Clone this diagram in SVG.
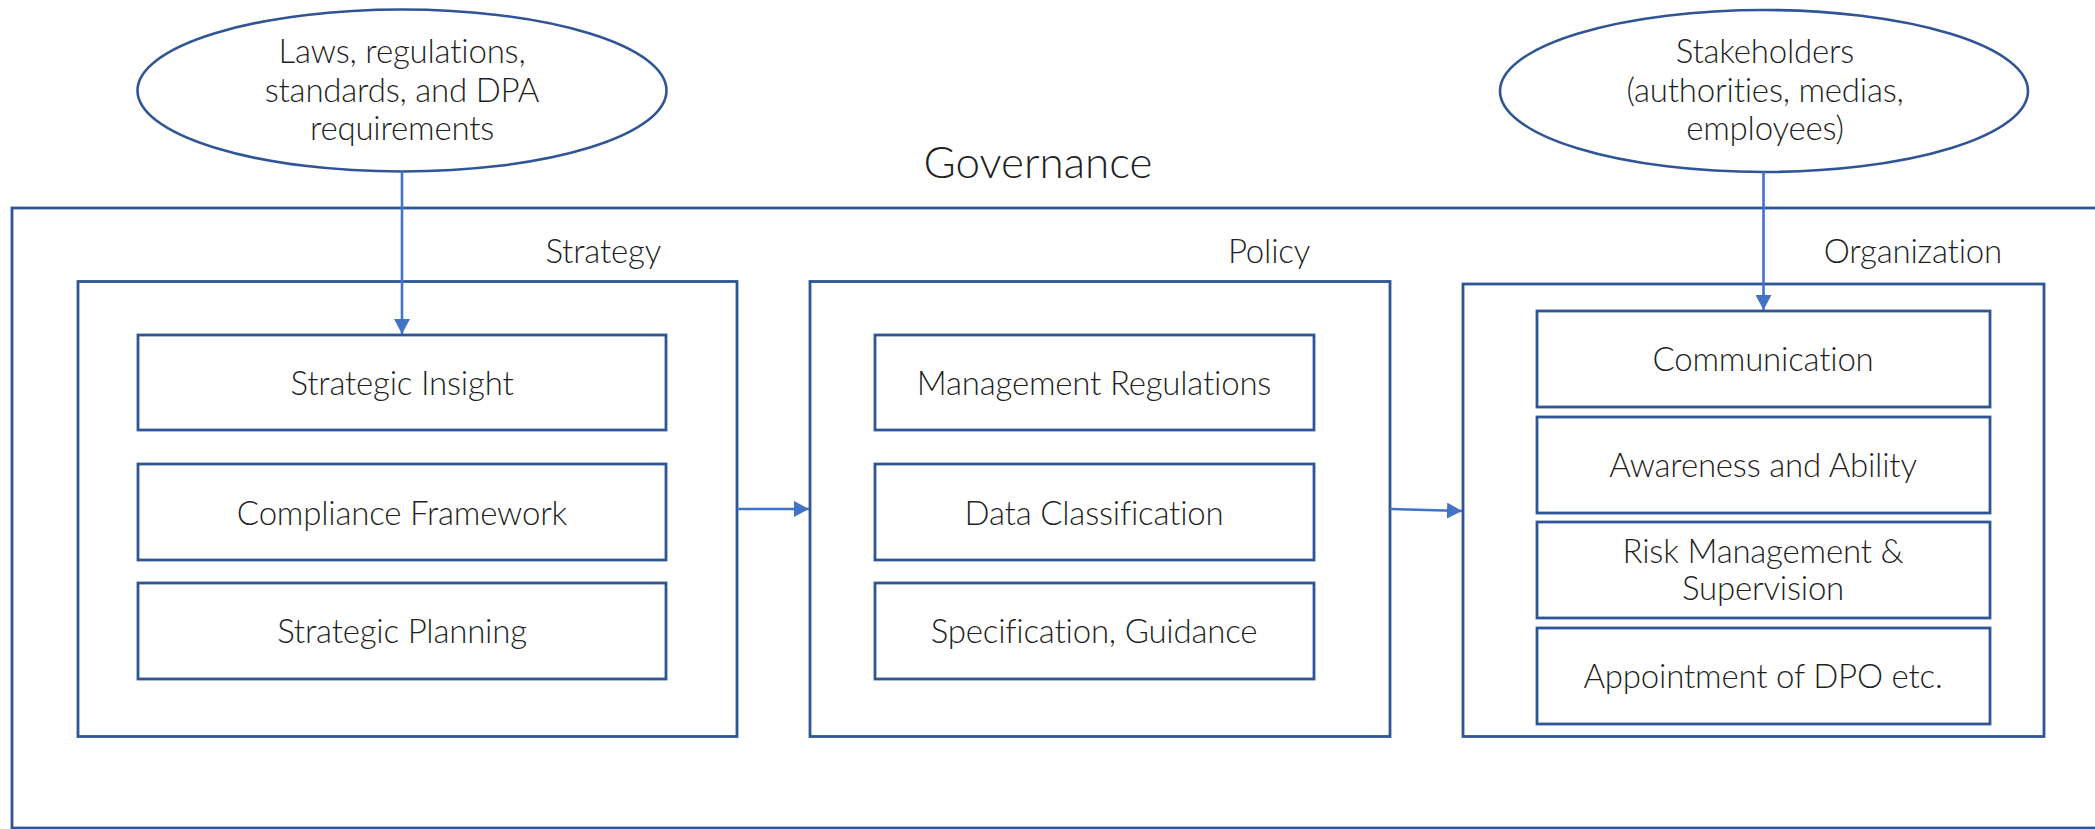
<svg xmlns="http://www.w3.org/2000/svg" width="2095" height="829" viewBox="0 0 2095 829">
  <defs>
    <style>
      .frame { fill: #ffffff; stroke: #2F5597; stroke-width: 2.8; }
      .item { fill: #ffffff; stroke: #2F5597; stroke-width: 2.8; }
      .source { fill: #ffffff; stroke: #2F5597; stroke-width: 2.6; }
      .link { fill: none; stroke: #4472C4; stroke-width: 2.6; }
      text { font-family: Lato, "Open Sans", "Liberation Sans", sans-serif; font-weight: 300; fill: #1f1f1f; }
      .t { font-size: 33px; letter-spacing: -0.2px; text-anchor: middle; }
      .head { font-size: 33px; letter-spacing: -0.2px; text-anchor: end; }
      .title { font-size: 44px; text-anchor: middle; }
    </style>
    <marker id="arrow" markerUnits="userSpaceOnUse" markerWidth="16" markerHeight="16" refX="15" refY="8" orient="auto">
      <path d="M0,0 L15,8 L0,16 z" fill="#4472C4"/>
    </marker>
  </defs>

  <rect width="2095" height="829" fill="#ffffff"/>

  <!-- Governance frame -->
  <g id="governance">
    <rect class="frame" x="12" y="208" width="2100" height="620"/>
    <text class="title" x="1038" y="178">Governance</text>
  </g>

  <!-- External inputs -->
  <g id="laws">
    <ellipse class="source" cx="402" cy="90.5" rx="264.5" ry="81"/>
    <text class="t" x="402" y="63">Laws, regulations,</text>
    <text class="t" x="402" y="101.5">standards, and DPA</text>
    <text class="t" x="402" y="140">requirements</text>
  </g>
  <g id="stakeholders">
    <ellipse class="source" cx="1764" cy="91" rx="264" ry="81"/>
    <text class="t" x="1765" y="63">Stakeholders</text>
    <text class="t" x="1765" y="101.5">(authorities, medias,</text>
    <text class="t" x="1765" y="140">employees)</text>
  </g>

  <!-- Strategy -->
  <g id="strategy">
    <rect class="frame" x="78" y="281.5" width="659" height="455"/>
    <text class="head" x="661" y="263">Strategy</text>
  </g>
  <g id="strategic-insight">
    <rect class="item" x="138" y="335" width="528" height="95"/>
    <text class="t" x="402" y="394.5">Strategic Insight</text>
  </g>
  <g id="compliance-framework">
    <rect class="item" x="138" y="464" width="528" height="96"/>
    <text class="t" x="402" y="524.5">Compliance Framework</text>
  </g>
  <g id="strategic-planning">
    <rect class="item" x="138" y="583" width="528" height="96"/>
    <text class="t" x="402" y="643">Strategic Planning</text>
  </g>

  <!-- Policy -->
  <g id="policy">
    <rect class="frame" x="810" y="281.5" width="580" height="455"/>
    <text class="head" x="1310" y="263">Policy</text>
  </g>
  <g id="management-regulations">
    <rect class="item" x="875" y="335" width="439" height="95"/>
    <text class="t" x="1094" y="394.5">Management Regulations</text>
  </g>
  <g id="data-classification">
    <rect class="item" x="875" y="464" width="439" height="96"/>
    <text class="t" x="1094" y="524.5">Data Classification</text>
  </g>
  <g id="specification-guidance">
    <rect class="item" x="875" y="583" width="439" height="96"/>
    <text class="t" x="1094" y="643">Specification, Guidance</text>
  </g>

  <!-- Organization -->
  <g id="organization">
    <rect class="frame" x="1463" y="284" width="581" height="452.5"/>
    <text class="head" x="2002" y="263">Organization</text>
  </g>
  <g id="communication">
    <rect class="item" x="1537" y="311" width="453" height="96"/>
    <text class="t" x="1763" y="371">Communication</text>
  </g>
  <g id="awareness">
    <rect class="item" x="1537" y="417" width="453" height="96"/>
    <text class="t" x="1763" y="477">Awareness and Ability</text>
  </g>
  <g id="risk-management">
    <rect class="item" x="1537" y="522" width="453" height="96"/>
    <text class="t" x="1763" y="562.5">Risk Management &amp;</text>
    <text class="t" x="1763" y="600">Supervision</text>
  </g>
  <g id="dpo">
    <rect class="item" x="1537" y="628" width="453" height="96"/>
    <text class="t" x="1763" y="688">Appointment of DPO etc.</text>
  </g>

  <!-- Connectors -->
  <g id="connectors">
    <line class="link" x1="402" y1="171.5" x2="402" y2="334" marker-end="url(#arrow)"/>
    <line class="link" x1="1763.5" y1="172" x2="1763.5" y2="310" marker-end="url(#arrow)"/>
    <line class="link" x1="737" y1="509" x2="809" y2="509" marker-end="url(#arrow)"/>
    <line class="link" x1="1390" y1="509" x2="1462" y2="511" marker-end="url(#arrow)"/>
  </g>
</svg>
